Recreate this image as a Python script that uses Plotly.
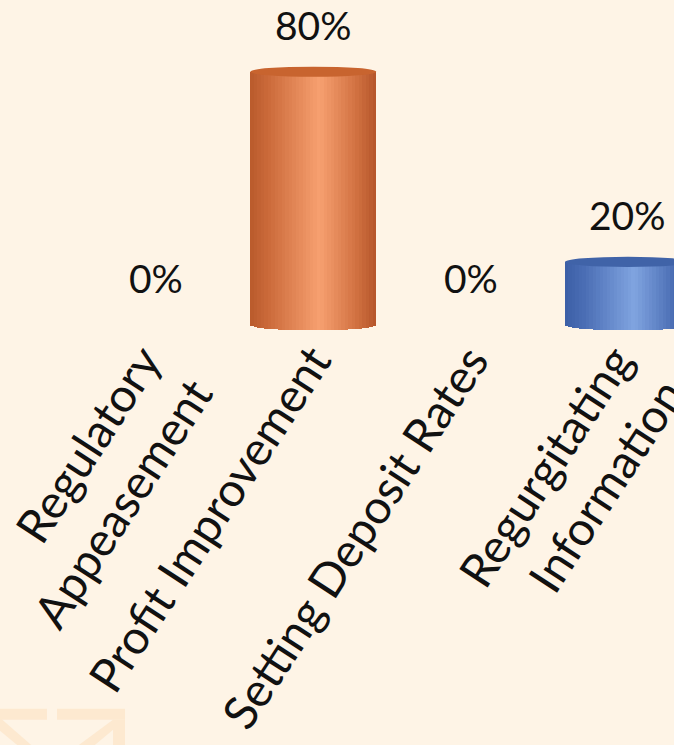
import numpy as np
import plotly.graph_objects as go

# Survey results: share of responses per category
categories = ["Regulatory<br>Appeasement", "Profit Improvement",
              "Setting Deposit Rates", "Regurgitating<br>Information"]
values = [0, 80, 0, 20]
value_labels = ["0%", "80%", "0%", "20%"]

# Cylinder colour ramps (left edge -> highlight -> right edge), one per category
ramps = [
    [(0.0, "#B95A2C"), (0.15, "#CC6B3B"), (0.55, "#F7A070"), (0.85, "#D07040"), (1.0, "#B4552A")],
    [(0.0, "#B95A2C"), (0.15, "#CC6B3B"), (0.55, "#F7A070"), (0.85, "#D07040"), (1.0, "#B4552A")],
    [(0.0, "#3C5FA6"), (0.15, "#4A6DB4"), (0.55, "#80A4E0"), (0.85, "#4D70B6"), (1.0, "#3A5CA2")],
    [(0.0, "#3C5FA6"), (0.15, "#4A6DB4"), (0.55, "#80A4E0"), (0.85, "#4D70B6"), (1.0, "#3A5CA2")],
]
cap_colors = ["#C8642F", "#C8642F", "#4063A8", "#4063A8"]

W, H = 674, 745
BG = "#FEF4E6"
BAR_W = 0.80          # bar width in category units
CAP = 1.6             # half-height of the cylinder ellipse, in % units
STRIPS = 36

# axis scale (pixels)
x0_px, step_px = 156, 157.3
zero_px, px_per_unit = 325, 3.167
y_min = -1.8
x_range = [-x0_px / step_px, (W - x0_px) / step_px]
y_range = [y_min, zero_px / px_per_unit]
bottom_margin = H - zero_px + y_min * px_per_unit


def hex_to_rgb(h):
    h = h.lstrip("#")
    return np.array([int(h[i:i + 2], 16) for i in (0, 2, 4)], dtype=float)


def ramp_color(stops, t):
    for (p0, c0), (p1, c1) in zip(stops[:-1], stops[1:]):
        if p0 <= t <= p1:
            f = (t - p0) / (p1 - p0)
            c = hex_to_rgb(c0) * (1 - f) + hex_to_rgb(c1) * f
            return "rgb(%d,%d,%d)" % tuple(np.round(c))
    return stops[-1][1]


fig = go.Figure()
xs = list(range(len(categories)))

# each cylinder is built from thin vertical strips shaded along the ramp
for k in range(STRIPS):
    t = (k + 0.5) / STRIPS
    u = 2 * t - 1
    sag = CAP * np.sqrt(max(0.0, 1 - u * u))
    lengths = [v + sag if v > 0 else None for v in values]
    bases = [-sag for _ in values]
    colors = [ramp_color(r, t) for r in ramps]
    fig.add_trace(go.Bar(
        x=xs, y=lengths, base=bases,
        width=BAR_W / STRIPS * 1.04,
        offset=-BAR_W / 2 + k * BAR_W / STRIPS,
        marker=dict(color=colors, line=dict(width=0)),
        hoverinfo="skip", showlegend=False, cliponaxis=False,
    ))

shapes = []
for i, v in enumerate(values):
    if v > 0:
        shapes.append(dict(
            type="circle", xref="x", yref="y", layer="above",
            x0=i - BAR_W / 2, x1=i + BAR_W / 2, y0=v - CAP, y1=v + CAP,
            fillcolor=cap_colors[i], line=dict(width=0),
        ))

# faint logo watermark in the lower-left corner (pixel geometry -> paper units)
def px_path(points):
    pts = []
    for x, y in points:
        px = x / W
        py = (H - bottom_margin - y) / (H - bottom_margin)
        pts.append(f"{px:.4f},{py:.4f}")
    return "M " + " L ".join(pts) + " Z"


wm = "#FDE9D0"
for poly in [
    [(0, 708), (47, 708), (47, 719), (0, 719)],
    [(57, 708), (125, 708), (125, 719), (57, 719)],
    [(113, 719), (125, 719), (125, 745), (113, 745)],
    [(113, 719), (125, 719), (94, 745), (78, 745)],
    [(0, 717), (0, 730), (18, 745), (32, 745)],
]:
    shapes.append(dict(type="path", xref="paper", yref="paper", path=px_path(poly),
                       fillcolor=wm, line=dict(width=0), layer="below"))

annotations = []
# value labels above each cylinder
for i, (v, lab) in enumerate(zip(values, value_labels)):
    annotations.append(dict(
        x=i, y=v, xref="x", yref="y", text=lab, showarrow=False,
        yshift=47, xanchor="center", yanchor="middle",
        font=dict(family="Lato", size=39, color="#111111"),
    ))

# two-line category labels sit a little further left of their tick
tick_positions = [i - 0.08 * cat.count("<br>") for i, cat in enumerate(categories)]

fig.update_layout(
    width=W, height=H,
    margin=dict(l=0, r=0, t=0, b=bottom_margin, autoexpand=False),
    paper_bgcolor=BG, plot_bgcolor=BG,
    barmode="overlay", bargap=0,
    xaxis=dict(range=x_range, fixedrange=True, showgrid=False, zeroline=False,
               showline=False, ticks="", tickmode="array", tickvals=tick_positions,
               ticktext=categories, tickangle=-57, ticklabelstandoff=-8,
               ticklabeloverflow="allow", automargin=False,
               tickfont=dict(family="Lato", size=47, color="#111111")),
    yaxis=dict(range=y_range, visible=False, fixedrange=True),
    shapes=shapes, annotations=annotations,
    showlegend=False,
)

fig.write_html("out.html", config={"displayModeBar": False})
